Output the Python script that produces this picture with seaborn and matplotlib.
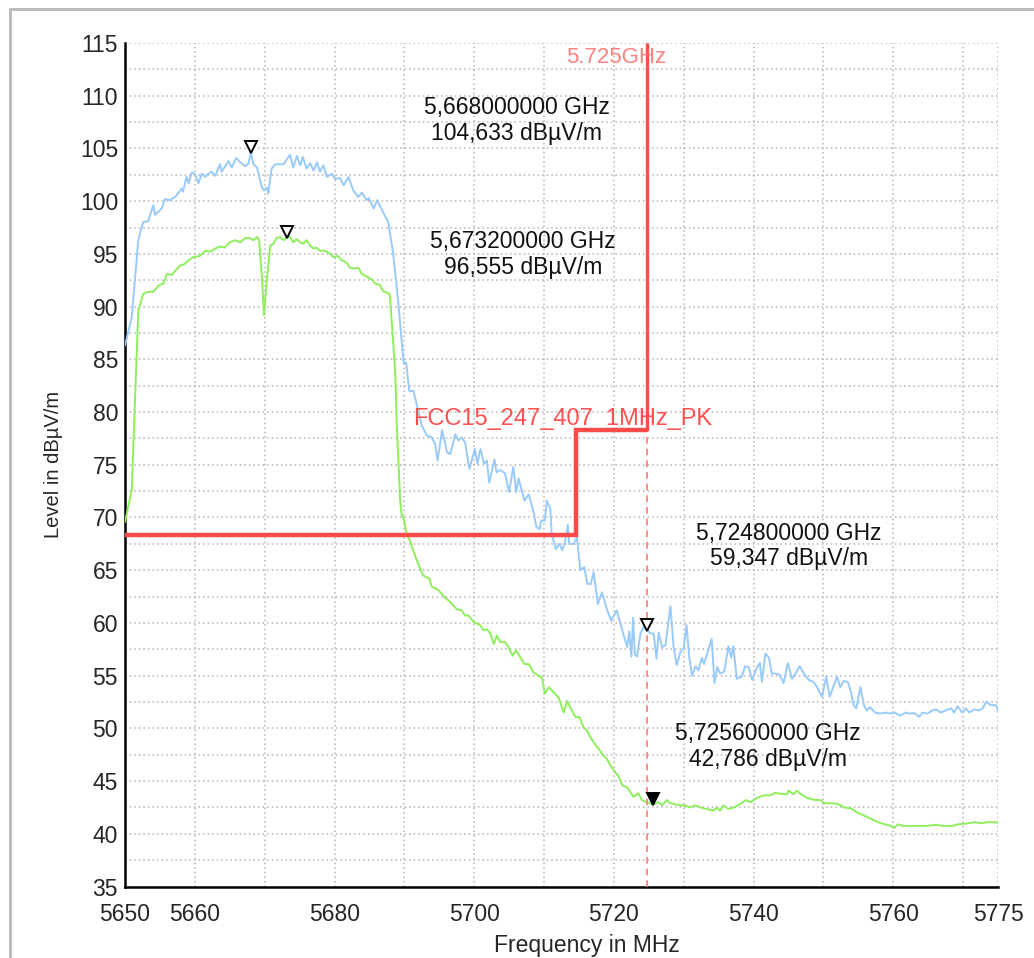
import numpy as np
import pandas as pd
import matplotlib
matplotlib.use("Agg")
import matplotlib.pyplot as plt
from matplotlib.ticker import MultipleLocator
from matplotlib.transforms import offset_copy
from matplotlib.patches import Rectangle
import seaborn as sns

# Trazas (MHz, dBuV/m)
blue_freq = [5650.0, 5650.96, 5651.9, 5652.6, 5653.3, 5654.05, 5654.3, 5655.25, 5655.7, 5656.4,
             5657.2, 5658.1, 5658.3, 5658.8, 5659.1, 5659.55, 5660.0, 5660.5, 5661.0, 5661.5,
             5661.9, 5662.4, 5662.9, 5663.6, 5663.85, 5664.8, 5665.3, 5665.9, 5666.5, 5667.2,
             5667.7, 5668.0, 5668.4, 5668.9, 5669.6, 5669.9, 5670.3, 5670.5, 5671.0, 5671.5,
             5672.7, 5673.2, 5673.6, 5674.1, 5674.6, 5675.1, 5675.45, 5676.0, 5676.5, 5677.0,
             5677.5, 5677.9, 5678.4, 5678.9, 5679.6, 5680.1, 5680.8, 5681.3, 5682.0, 5682.7,
             5683.4, 5683.9, 5684.6, 5684.9, 5685.6, 5686.1, 5687.0, 5687.7, 5688.4, 5689.1,
             5689.9, 5690.25, 5690.7, 5691.3, 5692.0, 5692.5, 5693.2, 5693.9, 5694.4, 5694.75,
             5695.4, 5696.1, 5696.55, 5697.3, 5697.75, 5698.2, 5698.7, 5699.3, 5700.1, 5700.45,
             5700.9, 5701.4, 5701.8, 5702.15, 5702.9, 5703.2, 5703.7, 5704.4, 5705.0, 5705.6,
             5706.0, 5706.35, 5707.2, 5707.8, 5708.5, 5708.9, 5709.35, 5709.6, 5710.1, 5710.4,
             5710.9, 5711.1, 5711.7, 5712.2, 5712.6, 5713.0, 5713.4, 5713.6, 5714.2, 5714.7,
             5715.2, 5715.75, 5716.2, 5716.7, 5717.1, 5717.7, 5718.3, 5719.0, 5719.6, 5720.4,
             5721.2, 5721.9, 5722.2, 5722.5, 5722.75, 5723.0, 5723.3, 5723.8, 5724.25, 5724.8,
             5725.2, 5725.7, 5726.1, 5726.4, 5726.9, 5727.4, 5727.7, 5728.1, 5728.55, 5729.0,
             5729.5, 5730.0, 5730.4, 5730.8, 5731.2, 5731.7, 5732.1, 5732.6, 5732.9, 5733.55,
             5734.0, 5734.4, 5734.8, 5735.2, 5735.8, 5736.4, 5736.8, 5737.1, 5737.6, 5738.3,
             5738.8, 5739.3, 5739.8, 5740.5, 5740.9, 5741.2, 5741.7, 5742.2, 5742.6, 5743.1,
             5743.7, 5744.3, 5744.9, 5745.5, 5746.0, 5746.6, 5747.2, 5747.9, 5748.6, 5749.1,
             5749.8, 5750.4, 5750.9, 5751.5, 5751.95, 5752.4, 5752.9, 5753.5, 5754.0, 5754.3,
             5754.7, 5755.3, 5755.8, 5756.2, 5756.7, 5757.4, 5758.1, 5758.9, 5759.5, 5760.2,
             5761.0, 5761.8, 5762.3, 5763.0, 5763.7, 5764.2, 5764.9, 5765.6, 5766.1, 5766.8,
             5767.5, 5768.3, 5768.7, 5769.2, 5769.9, 5770.4, 5770.9, 5771.6, 5772.3, 5772.8,
             5773.3, 5774.0, 5774.7, 5775.0]
blue_level = [86.3, 89.0, 96.3, 98.0, 98.1, 99.6, 98.7, 99.3, 100.2, 100.1,
              100.4, 101.2, 100.9, 102.3, 101.7, 102.7, 102.6, 101.7, 102.6, 102.3,
              102.6, 102.8, 102.4, 103.5, 102.8, 103.8, 103.2, 104.1, 103.7, 103.3,
              103.6, 104.63, 103.5, 103.2, 101.3, 101.0, 101.3, 100.7, 103.1, 103.5,
              103.5, 104.0, 104.4, 103.2, 104.3, 103.4, 104.2, 103.1, 103.6, 102.9,
              103.7, 102.8, 103.4, 102.3, 102.6, 102.1, 102.2, 101.5, 102.3, 101.0,
              100.4, 100.8, 100.1, 100.3, 99.3, 100.1, 98.9, 98.0, 95.0, 90.6,
              84.6, 84.7, 82.0, 82.0, 80.1, 78.7, 77.8, 77.6, 77.0, 75.4,
              78.3, 76.2, 76.0, 77.9, 77.3, 77.6, 77.1, 74.6, 76.5, 75.1,
              76.5, 75.1, 75.4, 73.3, 75.5, 74.3, 74.5, 74.2, 72.4, 74.8,
              72.4, 73.7, 71.6, 72.2, 70.5, 69.1, 68.9, 69.7, 69.7, 71.6,
              70.8, 68.4, 67.0, 67.5, 66.9, 67.7, 69.3, 67.5, 67.5, 68.1,
              65.0, 65.3, 63.7, 63.7, 64.8, 61.8, 62.9, 61.3, 60.2, 61.2,
              59.3, 57.7, 59.2, 56.8, 60.5, 57.0, 56.8, 59.0, 59.6, 59.35,
              59.0, 59.0, 56.6, 59.1, 57.7, 57.9, 59.6, 61.6, 57.7, 56.0,
              57.2, 57.6, 59.8, 56.7, 55.0, 55.9, 55.5, 56.7, 56.1, 57.5,
              58.5, 54.3, 55.8, 55.2, 55.4, 57.8, 56.7, 57.8, 54.7, 54.9,
              55.9, 55.8, 54.6, 55.8, 56.2, 54.4, 57.1, 56.7, 55.2, 55.2,
              55.1, 54.3, 56.2, 54.7, 55.2, 55.9, 55.2, 54.6, 54.4, 53.9,
              53.0, 54.9, 53.0, 54.1, 54.9, 53.9, 54.5, 54.4, 53.3, 52.2,
              51.9, 53.9, 52.2, 51.7, 52.0, 51.5, 51.4, 51.5, 51.4, 51.5,
              51.2, 51.5, 51.4, 51.45, 51.1, 51.5, 51.4, 51.7, 51.8, 51.5,
              51.7, 51.9, 51.5, 52.1, 51.5, 51.9, 51.5, 51.8, 51.7, 51.9,
              52.5, 52.2, 52.2, 51.7]

green_freq = [5650.0, 5650.96, 5651.9, 5652.6, 5653.3, 5654.05, 5654.8, 5655.5, 5656.0, 5656.7,
              5657.2, 5657.9, 5658.6, 5659.1, 5659.8, 5660.7, 5661.5, 5662.2, 5662.9, 5663.6,
              5664.3, 5665.0, 5665.8, 5666.5, 5667.2, 5667.9, 5668.4, 5668.9, 5669.2, 5669.6,
              5669.9, 5670.3, 5670.8, 5671.25, 5671.7, 5672.2, 5672.7, 5673.2, 5673.6, 5674.1,
              5674.6, 5675.1, 5675.5, 5676.0, 5676.5, 5677.0, 5677.4, 5677.9, 5678.6, 5679.4,
              5679.8, 5680.5, 5681.0, 5681.7, 5682.2, 5682.9, 5683.4, 5683.9, 5684.6, 5685.3,
              5685.8, 5686.5, 5686.9, 5687.9, 5688.2, 5688.7, 5688.9, 5689.4, 5689.6, 5689.9,
              5690.35, 5690.9, 5691.1, 5691.8, 5692.7, 5693.6, 5693.9, 5694.9, 5695.8, 5696.55,
              5697.5, 5698.2, 5698.7, 5699.2, 5699.9, 5700.9, 5701.3, 5701.8, 5702.3, 5702.8,
              5703.25, 5703.7, 5704.4, 5704.9, 5705.5, 5706.0, 5706.6, 5707.2, 5707.8, 5708.5,
              5709.2, 5709.7, 5710.1, 5710.7, 5711.4, 5712.1, 5712.8, 5713.3, 5714.0, 5714.45,
              5715.1, 5715.65, 5716.15, 5716.6, 5717.3, 5718.0, 5718.5, 5719.0, 5719.5, 5720.2,
              5720.65, 5721.2, 5721.9, 5722.8, 5723.5, 5724.0, 5724.7, 5725.6, 5726.4, 5726.9,
              5727.6, 5728.1, 5728.8, 5729.5, 5730.2, 5730.9, 5731.6, 5732.4, 5733.3, 5734.3,
              5734.75, 5735.2, 5735.7, 5736.4, 5737.2, 5738.1, 5738.9, 5739.6, 5740.5, 5741.5,
              5742.4, 5743.1, 5743.8, 5744.8, 5745.0, 5745.7, 5746.2, 5746.7, 5747.4, 5748.2,
              5748.9, 5749.6, 5750.1, 5751.1, 5752.0, 5753.0, 5754.0, 5754.9, 5755.9, 5756.9,
              5757.8, 5758.8, 5759.7, 5760.1, 5760.7, 5761.4, 5762.4, 5763.6, 5764.8, 5766.0,
              5767.2, 5768.4, 5769.3, 5770.0, 5770.8, 5771.7, 5772.7, 5773.4, 5774.3, 5775.0]
green_level = [69.55, 72.6, 89.6, 91.2, 91.4, 91.4, 92.0, 92.2, 93.1, 93.0,
               93.4, 93.9, 94.05, 94.4, 94.7, 94.8, 95.3, 95.2, 95.5, 95.7,
               95.6, 96.1, 96.3, 96.1, 96.5, 96.5, 96.3, 96.6, 96.3, 92.8,
               89.2, 92.5, 95.8, 95.95, 96.5, 96.6, 96.3, 96.56, 96.6, 96.1,
               96.4, 96.1, 95.95, 96.3, 95.8, 95.5, 95.6, 95.3, 95.3, 95.0,
               94.7, 94.8, 94.4, 94.2, 93.7, 93.6, 93.7, 93.1, 92.85, 92.6,
               92.2, 92.05, 91.5, 91.2, 88.5, 83.6, 78.9, 71.6, 70.3, 69.9,
               68.4, 67.65, 67.2, 65.9, 64.5, 64.2, 63.45, 63.1, 62.4, 62.0,
               61.3, 61.2, 60.7, 60.7, 60.1, 59.75, 59.3, 59.4, 59.0, 58.0,
               58.8, 58.2, 58.2, 57.7, 56.9, 57.4, 56.75, 56.1, 56.1, 55.3,
               55.0, 54.8, 53.3, 53.9, 53.4, 52.9, 51.5, 52.6, 51.7, 51.1,
               51.05, 50.1, 49.8, 49.2, 48.5, 47.9, 47.4, 47.1, 46.5, 45.8,
               45.5, 44.6, 44.4, 43.5, 43.85, 43.2, 43.0, 42.79, 43.0, 42.7,
               43.2, 42.9, 42.8, 42.7, 42.7, 42.5, 42.7, 42.5, 42.35, 42.2,
               42.5, 42.2, 42.7, 42.35, 42.5, 42.85, 43.2, 43.0, 43.4, 43.65,
               43.65, 43.9, 43.8, 43.75, 44.1, 43.75, 44.1, 43.8, 43.5, 43.3,
               43.2, 43.2, 42.9, 42.9, 42.85, 42.5, 42.4, 42.0, 41.7, 41.4,
               41.1, 40.9, 40.75, 40.55, 40.9, 40.75, 40.75, 40.75, 40.75, 40.85,
               40.75, 40.75, 40.9, 40.95, 41.0, 41.1, 41.0, 41.1, 41.1, 41.05]

# Linea limite FCC
limit_freq = [5650.0, 5714.6, 5714.6, 5724.75]
limit_level = [68.3, 68.3, 78.3, 78.3]
band_edge = 5724.75
limit_label = "FCC15_247_407_1MHz_PK"
band_label = "5.725GHz"

# Marcadores
marker_freq = [5668.0, 5673.2, 5724.8, 5725.6]
marker_level = [104.633, 96.555, 59.347, 42.786]
marker_filled = [False, False, False, True]
marker_text = ["5,668000000 GHz\n104,633 dBµV/m",
               "5,673200000 GHz\n96,555 dBµV/m",
               "5,724800000 GHz\n59,347 dBµV/m",
               "5,725600000 GHz\n42,786 dBµV/m"]
text_freq = [5706.1, 5707.0, 5745.1, 5742.0]
text_level = [107.65, 94.95, 67.3, 48.3]

x_ticks = [5650, 5660, 5670, 5680, 5690, 5700, 5710, 5720, 5730, 5740, 5750, 5760, 5770, 5775]
x_tick_labels = ["5650", "5660", "", "5680", "", "5700", "", "5720", "", "5740", "", "5760", "", "5775"]
y_ticks = list(range(35, 116, 5))

sns.set_style("white")
plt.rcParams['font.family'] = ['Liberation Sans', 'DejaVu Sans']

fig = plt.figure(figsize=(10.34, 9.58), dpi=100)
ax = fig.add_axes([0.1209, 0.0746, 0.8443, 0.8805])

# Marco gris exterior
fig.patches.append(Rectangle((10 / 1034, -0.1), 1.2, 1.1 - 9 / 958, transform=fig.transFigure,
                             fill=False, edgecolor="#b8b8b8", lw=2, zorder=0))

df_blue = pd.DataFrame({"freq": blue_freq, "level": blue_level})
df_green = pd.DataFrame({"freq": green_freq, "level": green_level})

sns.lineplot(data=df_blue, x="freq", y="level", ax=ax, color="#99cbfa", lw=1.4,
             sort=False, estimator=None, zorder=3)
sns.lineplot(data=df_green, x="freq", y="level", ax=ax, color="#8eef5c", lw=1.4,
             sort=False, estimator=None, zorder=3)

# Limite y borde de banda
ax.axvline(band_edge, color="#ff7a7a", lw=1.2, ls=(0, (4, 3)), zorder=4)
ax.plot([band_edge, band_edge], [limit_level[-1], 115], color="#ff4d4d", lw=2.4, zorder=5,
        solid_capstyle="butt")
ax.plot(limit_freq, limit_level, color="#ff4a4a", lw=3.2, zorder=5, solid_joinstyle="miter")
ax.text(5720.3, 113.6, band_label, color="#ff8080", fontsize=16, ha="center", va="center", zorder=6)
ax.text(5712.6, 79.3, limit_label, color="#ff5050", fontsize=17, ha="center", va="center", zorder=6)

# Marcadores (triangulo con la punta sobre el punto)
mk_trans = offset_copy(ax.transData, fig=fig, y=5, units="dots")
for f, l, filled in zip(marker_freq, marker_level, marker_filled):
    ax.plot([f], [l], marker="v", markersize=9, markeredgewidth=1.4,
            markeredgecolor="black", markerfacecolor="black" if filled else "white",
            transform=mk_trans, zorder=7, clip_on=False)
for tx, ty, s in zip(text_freq, text_level, marker_text):
    ax.text(tx, ty, s, fontsize=16.5, ha="center", va="center", multialignment="center",
            linespacing=1.15, color="#111111", zorder=6)

ax.set_xlim(5650, 5775)
ax.set_ylim(35, 115)
ax.set_xticks(x_ticks)
ax.set_xticklabels(x_tick_labels)
ax.set_yticks(y_ticks)
ax.yaxis.set_minor_locator(MultipleLocator(2.5))

ax.grid(axis="y", which="both", color="#b4b4b4", ls=(0, (1, 2)), lw=1.1, zorder=1)
ax.grid(axis="x", which="major", color="#b4b4b4", ls=(0, (1, 2)), lw=1.1, zorder=1)
ax.set_axisbelow(True)

for side in ["top", "right"]:
    ax.spines[side].set_visible(False)
for side in ["left", "bottom"]:
    ax.spines[side].set_color("black")
    ax.spines[side].set_linewidth(1.8)

ax.tick_params(axis="both", which="both", direction="inout", color="black", width=1.6)
ax.tick_params(axis="y", which="major", length=10, labelsize=16.5, pad=0)
ax.tick_params(axis="y", which="minor", length=10)
ax.tick_params(axis="x", which="major", length=10, labelsize=16.5, pad=7)

ax.set_ylabel("Level in dBµV/m", fontsize=14.5, labelpad=12)
ax.set_xlabel("Frequency in MHz", fontsize=16.5)
ax.xaxis.set_label_coords(0.529, -0.056)

plt.savefig("out.png", dpi=100)
plt.close()
